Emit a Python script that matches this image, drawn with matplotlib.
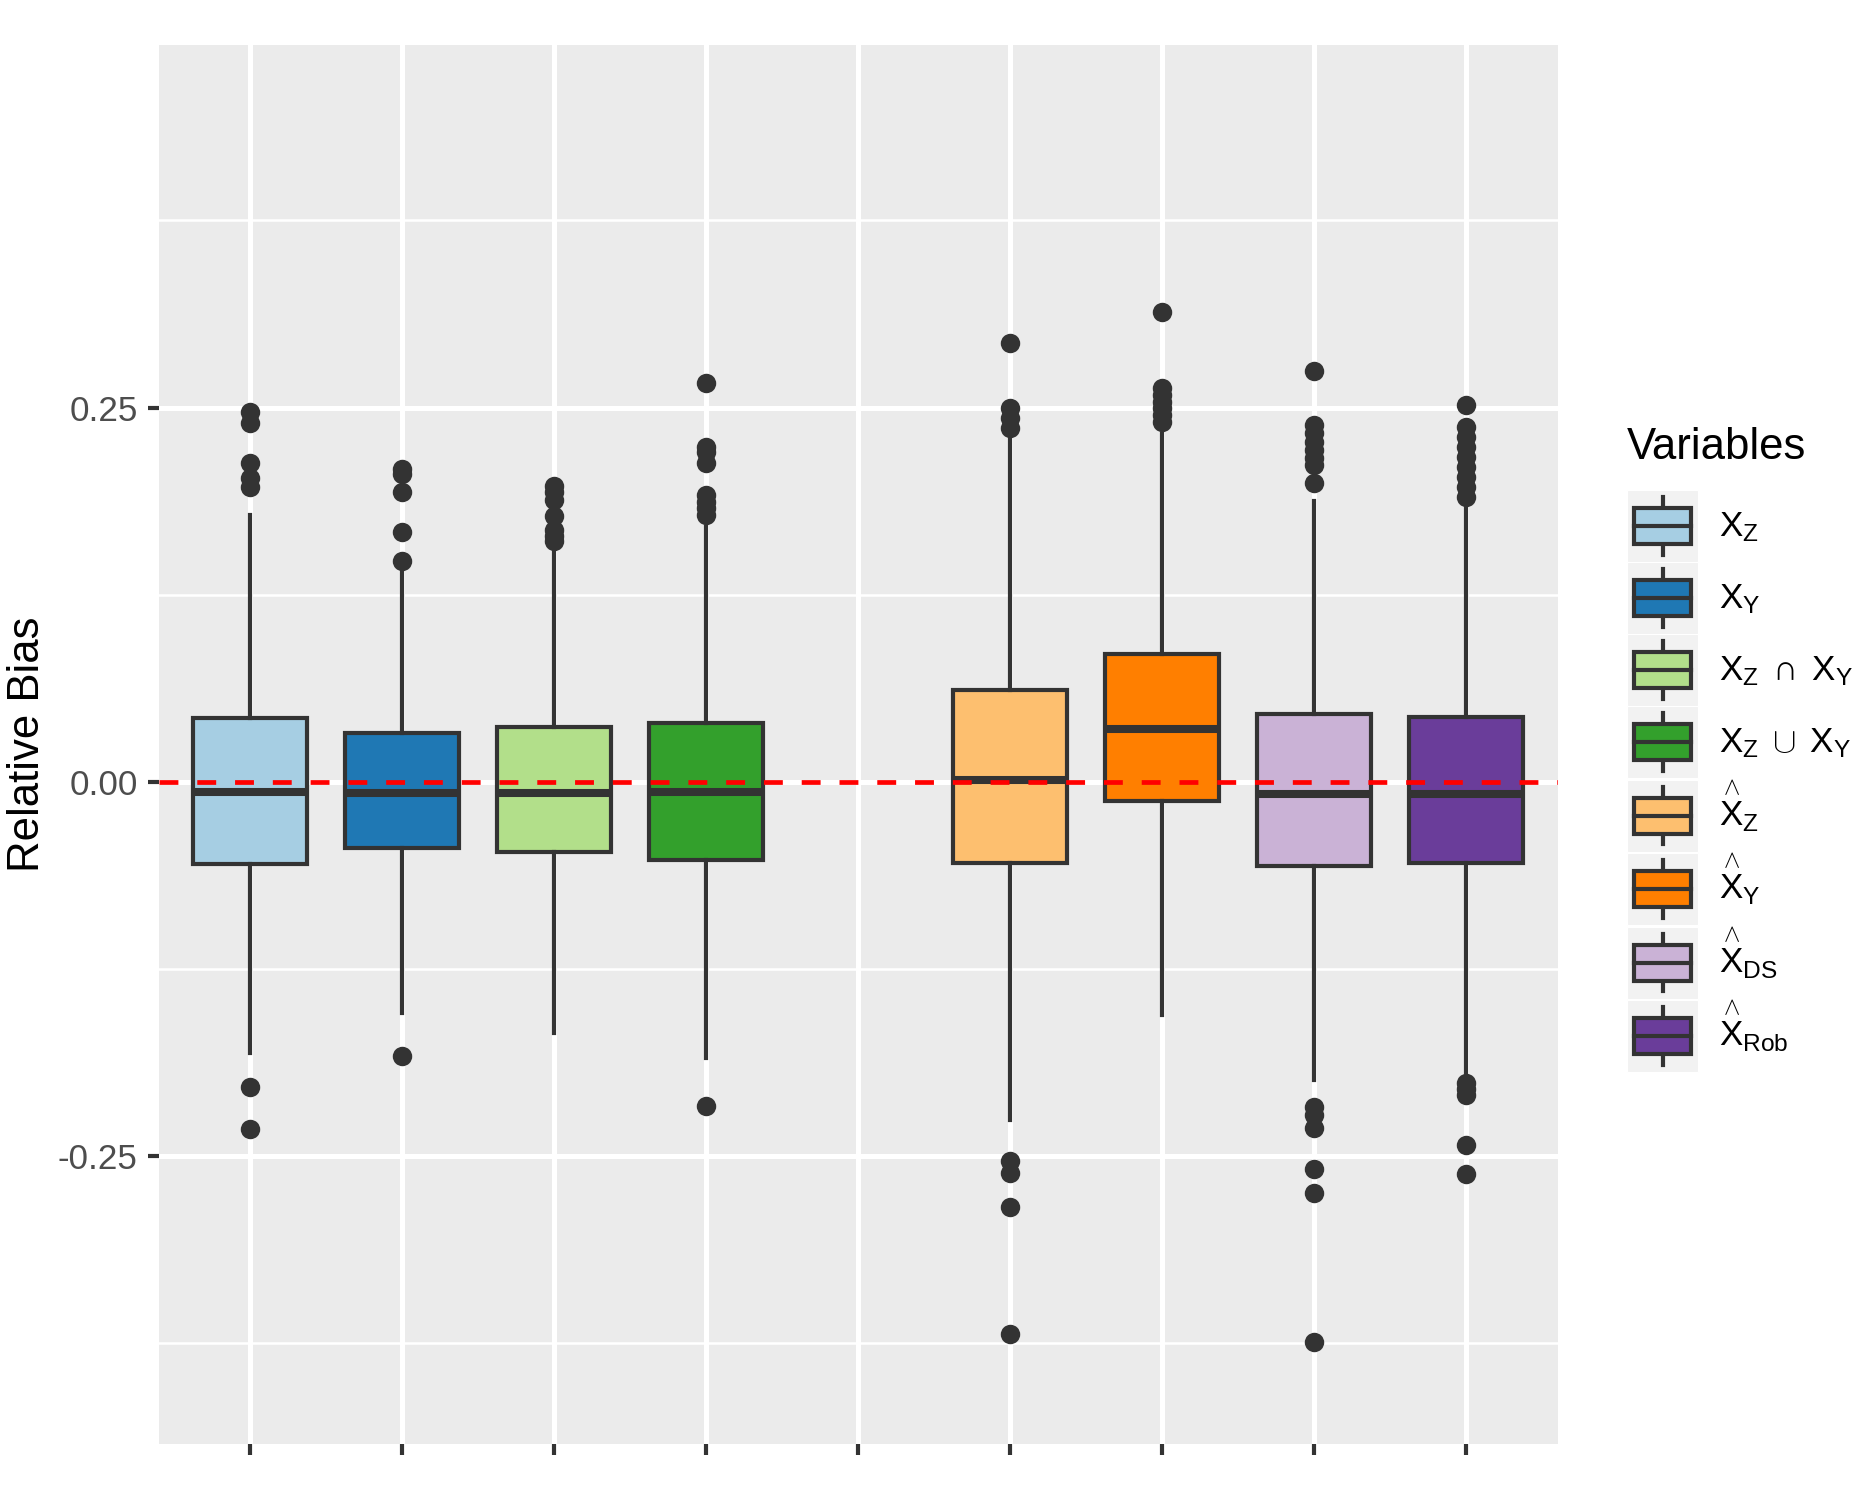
import numpy as np
import matplotlib
matplotlib.use("Agg")
import matplotlib.pyplot as plt
from matplotlib.patches import Rectangle, Patch
from matplotlib.lines import Line2D
from matplotlib.legend_handler import HandlerBase

plt.rcParams['font.family'] = ['Liberation Sans', 'DejaVu Sans']
plt.rcParams['mathtext.fontset'] = 'custom'
plt.rcParams['mathtext.rm'] = 'Liberation Sans'
plt.rcParams['mathtext.it'] = 'Liberation Sans:italic'
plt.rcParams['mathtext.bf'] = 'Liberation Sans:bold'

# x levels (the fifth one is an empty spacer)
x_levels = ["XZ", "XY", "XZcapXY", "XZcupXY", "", "hatXZ", "hatXY", "hatXDS", "hatXRob"]
variables = ["XZ", "XY", "XZcapXY", "XZcupXY", "hatXZ", "hatXY", "hatXDS", "hatXRob"]
legend_labels = [r'$\mathrm{X_Z}$', r'$\mathrm{X_Y}$',
                 r'$\mathrm{X_Z}\;\cap\;\mathrm{X_Y}$', r'$\mathrm{X_Z}\;\cup\;\mathrm{X_Y}$',
                 r'$\overset{\wedge}{\mathrm{X}}_\mathrm{Z}$', r'$\overset{\wedge}{\mathrm{X}}_\mathrm{Y}$',
                 r'$\overset{\wedge}{\mathrm{X}}_\mathrm{DS}$', r'$\overset{\wedge}{\mathrm{X}}_\mathrm{Rob}$']
fills = ["#A6CEE3", "#1F78B4", "#B2DF8A", "#33A02C", "#FDBF6F", "#FF7F00", "#CAB2D6", "#6A3D9A"]

# box statistics
whis_lo = [-0.1817, -0.1550, -0.1683, -0.1850, -0.2263, -0.1561, -0.1995, -0.1973]
q1 = [-0.0554, -0.0447, -0.0469, -0.0525, -0.0543, -0.0128, -0.0565, -0.0543]
med = [-0.0068, -0.0075, -0.0079, -0.0072, 0.0008, 0.0351, -0.0084, -0.0086]
q3 = [0.0427, 0.0326, 0.0362, 0.0389, 0.0612, 0.0852, 0.0451, 0.0429]
whis_hi = [0.1781, 0.1414, 0.1559, 0.1703, 0.2294, 0.2323, 0.1875, 0.1837]
outliers = [
    [0.2468, 0.2394, 0.2131, 0.2027, 0.1971, -0.2040, -0.2320],
    [0.2087, 0.2056, 0.1937, 0.1670, 0.1474, -0.1835],
    [0.1975, 0.1935, 0.1880, 0.1775, 0.1680, 0.1640, 0.1610],
    [0.2662, 0.2238, 0.2205, 0.2127, 0.1915, 0.1870, 0.1826, 0.1781, -0.2167],
    [0.2933, 0.2494, 0.2428, 0.2361, -0.2535, -0.2615, -0.2846, -0.3693],
    [0.3140, 0.2628, 0.2584, 0.2539, 0.2495, 0.2450, 0.2405],
    [0.2744, 0.2383, 0.2328, 0.2272, 0.2216, 0.2160, 0.2116, 0.1997,
     -0.2174, -0.2229, -0.2318, -0.2590, -0.2749, -0.3745],
    [0.2517, 0.2372, 0.2305, 0.2238, 0.2171, 0.2104, 0.2037, 0.1971, 0.1904,
     -0.2013, -0.2055, -0.2096, -0.2430, -0.2624],
]

y_ticks = [-0.25, 0.0, 0.25]
y_ticklabels = ["-0.25", "0.00", "0.25"]
y_minor = [-0.375, -0.125, 0.125, 0.375]

dark = "#333333"
small_fs = 25.2
big_fs = 31.5

stats = []
for i in range(len(variables)):
    stats.append(dict(whislo=whis_lo[i], q1=q1[i], med=med[i], q3=q3[i],
                      whishi=whis_hi[i], fliers=outliers[i]))
positions = [x_levels.index(v) + 1 for v in variables]

fig = plt.figure(figsize=(18.7, 15), dpi=100, facecolor="white")
ax = fig.add_axes([158.7 / 1870, 1 - 1444 / 1500, 1399 / 1870, (1444 - 44.7) / 1500])
ax.set_facecolor("#EBEBEB")

bp = ax.bxp(stats, positions=positions, widths=0.75, patch_artist=True, showcaps=False,
            boxprops=dict(edgecolor=dark, linewidth=3.0),
            medianprops=dict(color=dark, linewidth=5.8, solid_capstyle="butt"),
            whiskerprops=dict(color=dark, linewidth=3.0),
            flierprops=dict(marker="o", markersize=14, markerfacecolor=dark,
                            markeredgecolor=dark, markeredgewidth=0))
for patch, c in zip(bp["boxes"], fills):
    patch.set_facecolor(c)

ax.axhline(0, color="red", linewidth=3.4, linestyle=(0, (4, 4)), zorder=5)

ax.set_xlim(0.4, len(x_levels) + 0.6)
ax.set_ylim(-0.4428, 0.4925)
ax.set_xticks(range(1, len(x_levels) + 1))
ax.set_xticklabels([""] * len(x_levels))
ax.set_yticks(y_ticks)
ax.set_yticklabels(y_ticklabels)
ax.set_yticks(y_minor, minor=True)

ax.set_axisbelow(True)
ax.grid(which="major", color="white", linewidth=3.6)
ax.grid(which="minor", axis="y", color="white", linewidth=1.8)
for s in ax.spines.values():
    s.set_visible(False)
ax.tick_params(which="major", length=7.6, width=3.0, color=dark,
               labelsize=small_fs, labelcolor="#4D4D4D", pad=7.5)
ax.tick_params(which="minor", length=0)
ax.set_ylabel("Relative Bias", fontsize=big_fs, labelpad=7)


class BoxKey(HandlerBase):
    def create_artists(self, legend, orig_handle, xdescent, ydescent,
                       width, height, fontsize, trans):
        x0, y0 = -xdescent, -ydescent
        bg = Rectangle((x0, y0), width, height, facecolor="#F2F2F2",
                       edgecolor="white", linewidth=0.8, transform=trans)
        w1 = Line2D([x0 + 0.5 * width] * 2, [y0 + 0.1 * height, y0 + 0.25 * height],
                    color=dark, linewidth=3.0, transform=trans)
        w2 = Line2D([x0 + 0.5 * width] * 2, [y0 + 0.75 * height, y0 + 0.9 * height],
                    color=dark, linewidth=3.0, transform=trans)
        box = Rectangle((x0 + 0.1 * width, y0 + 0.25 * height), 0.8 * width, 0.5 * height,
                        facecolor=orig_handle.get_facecolor(), edgecolor=dark,
                        linewidth=3.0, transform=trans)
        mid = Line2D([x0 + 0.1 * width, x0 + 0.9 * width], [y0 + 0.5 * height] * 2,
                     color=dark, linewidth=3.0, transform=trans)
        return [bg, w1, w2, box, mid]


# key size: 71 x 72 px
key_w = 71 * 0.72 / small_fs
key_h = (72 * 0.72 / small_fs - 0.245) / 0.65

handles = [Patch(facecolor=c) for c in fills]
leg = fig.legend(handles, legend_labels, handler_map={Patch: BoxKey()},
                 loc="upper left", bbox_to_anchor=(1627 / 1870, 1 - 490 / 1500),
                 bbox_transform=fig.transFigure, frameon=False, fontsize=small_fs,
                 borderpad=0, borderaxespad=0, labelspacing=0,
                 handlelength=key_w, handleheight=key_h, handletextpad=0.6)
fig.text(1627 / 1870, 1 - 459 / 1500, "Variables", fontsize=big_fs, va="baseline", ha="left")

fig.savefig("out.png", dpi=100)
